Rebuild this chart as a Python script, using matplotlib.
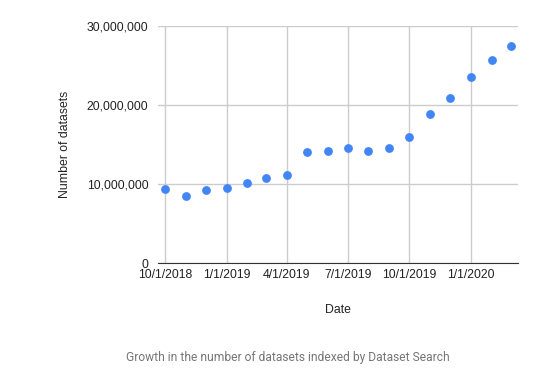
import pandas as pd
import matplotlib
matplotlib.use("Agg")
import matplotlib.pyplot as plt
import matplotlib.dates as mdates
from matplotlib.ticker import FuncFormatter

# monthly counts of datasets indexed
months = ["2018-10-01", "2018-11-01", "2018-12-01", "2019-01-01", "2019-02-01",
          "2019-03-01", "2019-04-01", "2019-05-01", "2019-06-01", "2019-07-01",
          "2019-08-01", "2019-09-01", "2019-10-01", "2019-11-01", "2019-12-01",
          "2020-01-01", "2020-02-01", "2020-03-01"]
counts = [9.39e6, 8.55e6, 9.27e6, 9.56e6, 10.19e6, 10.78e6, 11.2e6, 14.03e6,
          14.16e6, 14.58e6, 14.16e6, 14.58e6, 15.97e6, 18.84e6, 20.94e6,
          23.55e6, 25.7e6, 27.5e6]
tick_dates = ["2018-10-01", "2019-01-01", "2019-04-01", "2019-07-01",
              "2019-10-01", "2020-01-01"]
y_ticks = [0, 10e6, 20e6, 30e6]

plt.rcParams['font.family'] = ['Liberation Sans', 'DejaVu Sans']

dates = pd.to_datetime(months)
ticks = pd.to_datetime(tick_dates)

fig = plt.figure(figsize=(5.52, 3.9), dpi=100)
ax = fig.add_axes([158 / 552, 1 - 263.3 / 390, 360 / 552, 237.3 / 390])

ax.scatter(dates, counts, s=40, color='#4285F4', zorder=3, linewidths=0)

ax.set_xlim(dates[0] - pd.Timedelta(days=10.5), dates[-1] + pd.Timedelta(days=10.5))
ax.set_ylim(0, 30e6)
ax.set_xticks(ticks)
ax.xaxis.set_major_formatter(FuncFormatter(
    lambda v, p: "{d.month}/{d.day}/{d.year}".format(d=mdates.num2date(v))))
ax.set_yticks(y_ticks)
ax.yaxis.set_major_formatter(FuncFormatter(lambda v, p: "{:,.0f}".format(v)))

ax.grid(True, color='#cccccc', linewidth=1)
ax.set_axisbelow(True)
for s in ['top', 'right', 'left']:
    ax.spines[s].set_visible(False)
ax.spines['bottom'].set_color('#333333')
ax.spines['bottom'].set_zorder(4)
ax.tick_params(length=0, labelsize=8.8, colors='#222222', pad=7)
ax.tick_params(axis='x', pad=4)

ax.set_xlabel('Date', fontsize=8.8, color='#222222', labelpad=17)
ax.set_ylabel('Number of datasets', fontsize=8.8, color='#222222', labelpad=11)

fig.text(288 / 552, 1 - 358 / 390, 'Growth in the number of datasets indexed by Dataset Search',
         ha='center', va='center', fontsize=8.64, color='#757575', family=['Roboto', 'DejaVu Sans'])

fig.savefig('out.png', dpi=100, facecolor='white')
